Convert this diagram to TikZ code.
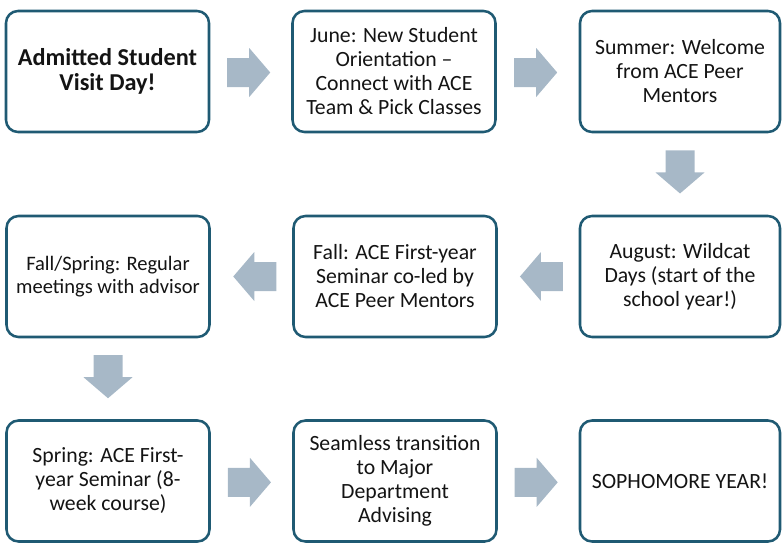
\documentclass[tikz,border=0pt]{standalone}
\usepackage{fontspec}
\setmainfont{Carlito}
\definecolor{boxline}{RGB}{31,90,115}
\definecolor{arrfill}{RGB}{167,184,199}
\definecolor{txt}{RGB}{20,20,20}
\begin{document}
\begin{tikzpicture}[x=0.75pt,y=-0.75pt,
  stepbox/.style={draw=boxline, line width=1.9pt, rounded corners=9pt, fill=white,
    minimum width=152.25pt, minimum height=90.75pt, align=center, text=txt,
    inner sep=2pt, font=\fontsize{16.3pt}{18pt}\selectfont},
  narrowbox/.style={stepbox, minimum width=150pt},
  smalltext/.style={font=\fontsize{15.4pt}{16.8pt}\selectfont},
  boldtext/.style={font=\fontsize{18.2pt}{18.2pt}\selectfont\bfseries},
  blockarrow/.pic={\fill[arrfill] (-21.5,-14.5) -- (0.5,-14.5) -- (0.5,-24.5) -- (21.5,0)
     -- (0.5,24.5) -- (0.5,14.5) -- (-21.5,14.5) -- cycle;},
  arrpos/.style={pos=#1, sloped, allow upside down}
]
\useasboundingbox (0,0) rectangle (782,543);
\node[stepbox, boldtext] (b1) at (107.5,71.5) {Admitted Student\\Visit Day!};
\node[stepbox] (b2) at (394,71.5) {June: New Student\\Orientation –\\Connect with ACE\\Team \& Pick Classes};
\node[narrowbox] (b3) at (680,71.5) {Summer: Welcome\\from ACE Peer\\Mentors};
\node[stepbox, smalltext] (b4) at (108,276.5) {Fall/Spring: Regular\\meetings with advisor};
\node[stepbox] (b5) at (395,276.5) {Fall: ACE First-year\\Seminar co-led by\\ACE Peer Mentors};
\node[narrowbox] (b6) at (680,276.5) {August: Wildcat\\Days (start of the\\school year!)};
\node[stepbox] (b7) at (108,481) {Spring: ACE First-\\year Seminar (8-\\week course)};
\node[stepbox] (b8) at (395,481) {Seamless transition\\to Major\\Department\\Advising};
\node[narrowbox] (b9) at (680,481) {SOPHOMORE YEAR!};

\path ([yshift=-0.75pt]b1.east) -- ([yshift=-0.75pt]b2.west) pic[arrpos=0.475]{blockarrow};
\path ([yshift=-0.75pt]b2.east) -- ([yshift=-0.75pt]b3.west) pic[arrpos=0.475]{blockarrow};
\path (b3.south) -- (b6.north) pic[arrpos=0.475]{blockarrow};
\path (b6.west) -- (b5.east) pic[arrpos=0.46]{blockarrow};
\path (b5.west) -- (b4.east) pic[arrpos=0.46]{blockarrow};
\path (b4.south) -- (b7.north) pic[arrpos=0.475]{blockarrow};
\path ([yshift=-1pt]b7.east) -- ([yshift=-1pt]b8.west) pic[arrpos=0.475]{blockarrow};
\path ([yshift=-1pt]b8.east) -- ([yshift=-1pt]b9.west) pic[arrpos=0.475]{blockarrow};
\end{tikzpicture}
\end{document}
